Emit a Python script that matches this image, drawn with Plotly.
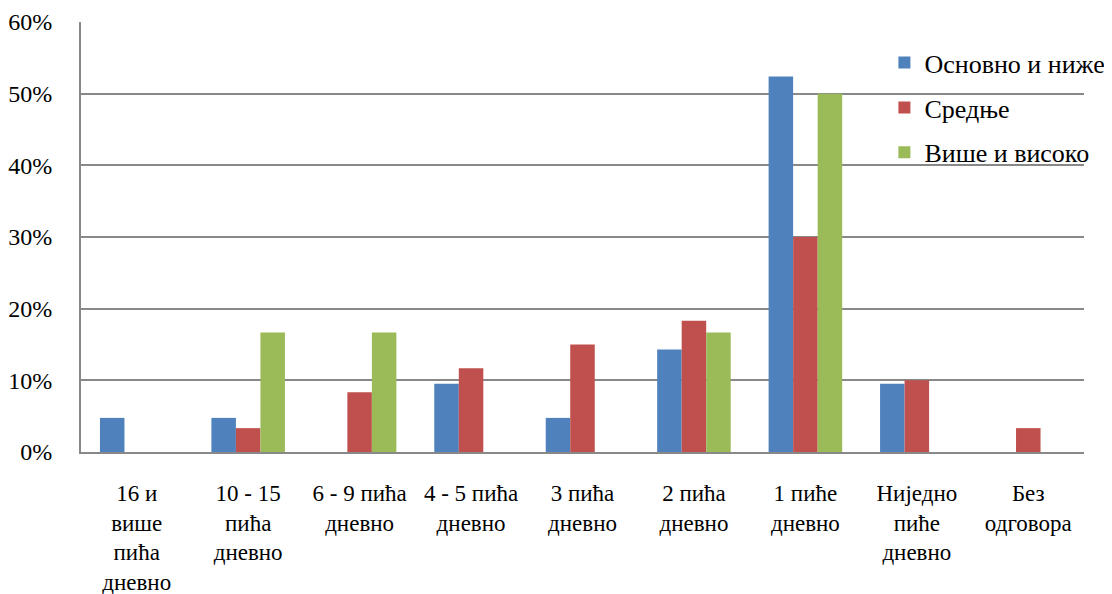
import plotly.graph_objects as go

categories = ["16 и<br>више<br>пића<br>дневно", "10 - 15<br>пића<br>дневно", "6 - 9 пића<br>дневно",
              "4 - 5 пића<br>дневно", "3 пића<br>дневно", "2 пића<br>дневно", "1 пиће<br>дневно",
              "Ниједно<br>пиће<br>дневно", "Без<br>одговора"]
series_names = ["Основно и ниже", "Средње", "Више и високо"]
osnovno = [4.76, 4.76, 0, 9.52, 4.76, 14.29, 52.38, 9.52, 0]
srednje = [0, 3.33, 8.33, 11.67, 15.0, 18.33, 30.0, 10.0, 3.33]
vise = [0, 16.67, 16.67, 0, 0, 16.67, 50.0, 0, 0]
colors = ["#4F81BD", "#C0504D", "#9BBB59"]

fig = go.Figure()
for i, (name, vals) in enumerate(zip(series_names, [osnovno, srednje, vise])):
    fig.add_trace(go.Bar(x=categories, y=[v / 100 for v in vals], name=name,
                         marker=dict(color=colors[i], line=dict(width=0)),
                         legendgroup=str(i)))

font = "Liberation Serif"
fig.update_layout(
    width=1104, height=586,
    margin=dict(l=73, r=28, t=14, b=142, autoexpand=False),
    paper_bgcolor="white", plot_bgcolor="white",
    barmode="group", bargap=0.34, bargroupgap=0,
    font=dict(family=font, size=23, color="black"),
    showlegend=True,
    legend=dict(x=0.801, y=0.96, xanchor="left", yanchor="top",
                bgcolor="rgba(0,0,0,0)", font=dict(size=26, family=font),
                tracegroupgap=8, itemwidth=30, borderwidth=0),
    xaxis=dict(showline=True, linecolor="#888888", linewidth=2, ticks="",
               tickfont=dict(size=23, family=font), showgrid=False, automargin=False,
               ticklabelstandoff=19),
    yaxis=dict(range=[0, 0.6], dtick=0.1, tickformat=".0%", showline=True,
               linecolor="#888888", linewidth=2, showgrid=True, gridcolor="#888888",
               gridwidth=1.5, ticks="", ticklen=0, tickfont=dict(size=24, family=font),
               zeroline=False, automargin=False, ticklabelstandoff=22),
)
fig.write_html("out.html")
